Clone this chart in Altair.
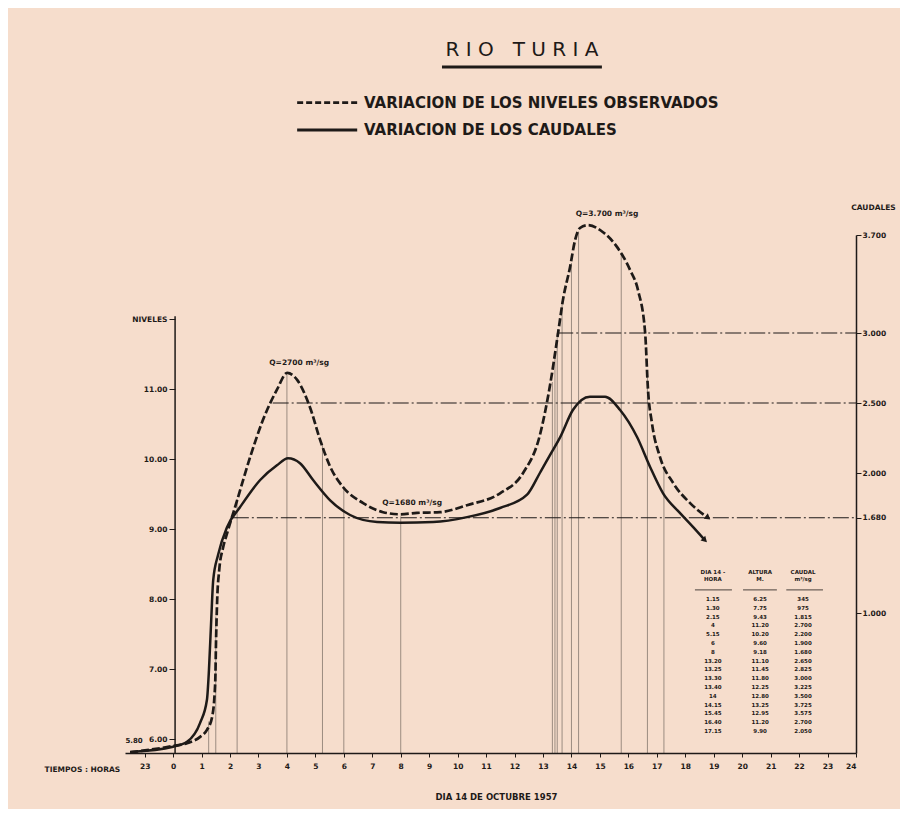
import altair as alt
import pandas as pd

# ---------------- data ----------------
# dashed curve: observed levels (m) against time (hours, day 14)
niv_h = [-1.51, 0.0, 0.49, 0.95, 1.19, 1.37, 1.48, 1.51, 1.55, 1.62, 1.76, 1.90, 2.25, 2.71, 3.16,
         3.65, 4.01, 4.36, 4.81, 5.17, 5.52, 5.97, 6.68, 7.38, 7.98, 8.57, 9.38, 10.33, 11.49, 12.30,
         12.89, 13.25, 13.53, 13.70, 13.95, 14.13, 14.30, 14.58, 15.11, 15.60, 16.06, 16.34, 16.59,
         16.69, 16.83, 17.11, 17.57, 18.17, 18.80]
niv_m = [5.81, 5.90, 5.94, 6.03, 6.13, 6.31, 6.80, 7.41, 7.99, 8.41, 8.74, 8.94, 9.41, 10.03, 10.56,
         10.99, 11.23, 11.13, 10.74, 10.27, 9.89, 9.60, 9.37, 9.24, 9.21, 9.23, 9.24, 9.34, 9.51, 9.80,
         10.34, 11.06, 11.80, 12.27, 12.74, 13.13, 13.30, 13.34, 13.24, 13.03, 12.70, 12.41, 11.80,
         10.99, 10.51, 10.03, 9.66, 9.37, 9.16]

# solid curve: discharges (m3/s) against time
cau_h = [-1.51, 0.0, 0.49, 0.95, 1.19, 1.26, 1.34, 1.41, 1.58, 1.90, 2.35, 3.06, 3.65, 4.04, 4.46,
         4.92, 5.52, 6.22, 7.17, 7.98, 9.14, 10.33, 11.49, 12.44, 12.89, 13.25, 13.60, 14.05, 14.65,
         15.18, 15.71, 16.31, 16.76, 17.22, 17.81, 18.27, 18.69]
cau_q = [7, 45, 80, 215, 380, 590, 950, 1235, 1415, 1615, 1755, 1950, 2055, 2105, 2070,
         1950, 1805, 1700, 1650, 1645, 1650, 1685, 1750, 1845, 2000, 2130, 2255, 2450, 2545,
         2545, 2450, 2255, 2045, 1855, 1715, 1615, 1520]

# table (hour labels, decimal hours, height, discharge)
tab_hora = ["1.15", "1.30", "2.15", "4", "5.15", "6", "8", "13.20", "13.25", "13.30", "13.40",
            "14", "14.15", "15.45", "16.40", "17.15"]
tab_hdec = [1.25, 1.50, 2.25, 4.0, 5.25, 6.0, 8.0, 13.33, 13.42, 13.50, 13.67, 14.0, 14.25, 15.75,
            16.67, 17.25]
tab_alt = [6.25, 7.75, 9.43, 11.20, 10.20, 9.60, 9.18, 11.10, 11.45, 11.80, 12.25, 12.80, 13.25,
           12.95, 11.20, 9.90]
tab_cau = ["345", "975", "1.815", "2.700", "2.200", "1.900", "1.680", "2.650", "2.825", "3.000",
           "3.225", "3.500", "3.725", "3.575", "2.700", "2.050"]

# reference discharge lines (m3/s) and where they start (hours)
ref_q = [1680, 2500, 3000]
ref_h0 = [2.1, 3.5, 13.5]

niv_ticks = [6, 7, 8, 9, 10, 11, 12]
cau_ticks = [1000, 1680, 2000, 2500, 3000, 3700]
hour_ticks = list(range(-1, 25))

series_niv = "VARIACION DE LOS NIVELES OBSERVADOS"
series_cau = "VARIACION DE LOS CAUDALES"

# ---------------- styling ----------------
INK = "#1e1a18"
BG = "#f6ddcc"
FONT = "DejaVu Sans"
NB = "\u00a0"
X = alt.Scale(domain=[-1.69, 24], nice=False, zero=False)
YL = alt.Scale(domain=[5.8, 13.2], nice=False, zero=False)
YR = alt.Scale(domain=[0, 3700], nice=False, zero=True)
one = pd.DataFrame({"a": [0]})


def spaced(s, gap=1, word_gap=3):
    return (NB * word_gap).join((NB * gap).join(w) for w in s.split(" "))


x_axis = alt.Axis(
    orient="bottom", values=hour_ticks,
    labelExpr="datum.value == -1 ? '23' : '' + datum.value",
    grid=False, domain=True, ticks=True, labels=True,
    tickSize=4, tickColor=INK, tickWidth=1, domainColor=INK, domainWidth=1.5,
    labelFont=FONT, labelFontSize=7.5, labelFontWeight="bold", labelColor=INK, labelPadding=5,
    title="DIA 14 DE OCTUBRE 1957", titleFont=FONT, titleFontSize=8.5,
    titleFontWeight="bold", titleColor=INK, titlePadding=23, titleX=371, titleAlign="center",
)
yl_axis = alt.Axis(
    orient="left", offset=-50, values=niv_ticks,
    labelExpr="datum.value == 12 ? 'NIVELES' : format(datum.value, '.2f')",
    domain=False, grid=False, ticks=True, labels=True, tickSize=6, tickColor=INK, tickWidth=1,
    labelFont=FONT, labelFontSize=7.5, labelFontWeight="bold", labelColor=INK, labelPadding=2,
    title=None,
)
yr_axis = alt.Axis(
    orient="right", values=cau_ticks,
    labelExpr="replace(format(datum.value, ','), ',', '.')",
    grid=False, domain=True, ticks=True, labels=True,
    tickSize=5, tickColor=INK, tickWidth=1, domainColor=INK, domainWidth=1.5,
    labelFont=FONT, labelFontSize=7.5, labelFontWeight="bold", labelColor=INK, labelPadding=1,
    title="CAUDALES", titleAngle=0, titleX=17, titleY=-28, titleAlign="center",
    titleBaseline="middle", titleFont=FONT, titleFontSize=7.5, titleFontWeight="bold", titleColor=INK,
)


def XF(field):
    # every layer carries the same x axis definition, so they merge into one
    return alt.X(field, scale=X, axis=x_axis)


def pos_chart(**fields):
    return alt.Chart(one).transform_calculate(**{k: str(v) for k, v in fields.items()})


def label(text, h, m, size=8, weight="bold", align="center", baseline="middle", dx=0, dy=0):
    return pos_chart(ph=h, pm=m).mark_text(
        text=text, font=FONT, fontSize=size, fontWeight=weight, color=INK,
        align=align, baseline=baseline, dx=dx, dy=dy
    ).encode(x=XF("ph:Q"), y=alt.Y("pm:Q", scale=YL, axis=None))


def seg(h1, h2, m, width=1.0, dash=None):
    kw = dict(color=INK, strokeWidth=width)
    if dash:
        kw["strokeDash"] = dash
    return pos_chart(ph=h1, ph2=h2, pm=m).mark_rule(**kw).encode(
        x=XF("ph:Q"), x2="ph2:Q", y=alt.Y("pm:Q", scale=YL, axis=None))


df_niv = pd.DataFrame({"h": niv_h, "m": niv_m})
df_cau = pd.DataFrame({"h": cau_h, "q": cau_q})
df_tab = pd.DataFrame({"hora": tab_hora, "hd": tab_hdec, "alt": tab_alt, "cau": tab_cau,
                       "alt_txt": [f"{v:.2f}" for v in tab_alt], "i": list(range(len(tab_hora)))})
df_ref = pd.DataFrame({"q": ref_q, "h0": ref_h0})

# ---------------- level layers ----------------
niv_line = alt.Chart(df_niv).mark_line(
    color=INK, strokeWidth=2.7, strokeDash=[8, 3], interpolate="monotone"
).encode(x=XF("h:Q"), y=alt.Y("m:Q", scale=YL, axis=yl_axis))

verticals = alt.Chart(df_tab).transform_calculate(base="5.8").mark_rule(
    color=INK, strokeWidth=0.7, opacity=0.6
).encode(x=XF("hd:Q"), y=alt.Y("base:Q", scale=YL, axis=None), y2="alt:Q")

left_axis_line = pos_chart(ph=0.07, pm=5.8, pm2=12.04).mark_rule(color=INK, strokeWidth=1.5).encode(
    x=XF("ph:Q"), y=alt.Y("pm:Q", scale=YL, axis=None), y2="pm2:Q")

niv_arrow = alt.Chart(df_niv.tail(1)).mark_point(
    shape="triangle-right", filled=True, size=45, angle=38, color=INK, opacity=1
).encode(x=XF("h:Q"), y=alt.Y("m:Q", scale=YL, axis=None))

tab_cols = []
for field, hpos in [("hora", 18.97), ("alt_txt", 20.63), ("cau", 22.14)]:
    tab_cols.append(alt.Chart(df_tab).transform_calculate(
        ty="8.0 - datum.i * 0.1257", tx=str(hpos)
    ).mark_text(
        font=FONT, fontSize=5.5, fontWeight="bold", color=INK, align="center", baseline="middle"
    ).encode(x=XF("tx:Q"), y=alt.Y("ty:Q", scale=YL, axis=None), text=f"{field}:N"))

annotations = [
    label(spaced("RIO TURIA"), 12.26, 15.84, size=20, weight="normal"),
    seg(9.45, 15.07, 15.60, width=2.8),
    seg(4.36, 6.47, 15.09, width=2.8, dash=[6, 3]),
    label(series_niv, 6.71, 15.09, size=15, align="left"),
    seg(4.36, 6.47, 14.70, width=2.8),
    label(series_cau, 6.71, 14.70, size=15, align="left"),
    label("Q=2700 m³/sg", 4.43, 11.37, size=7.5),
    label("Q=1680 m³/sg", 8.40, 9.37, size=7.5),
    label("Q=3.700 m³/sg", 15.25, 13.50, size=7.5),
    label("5.80", -1.37, 5.97, size=7),
    label("TIEMPOS : HORAS", -1.86, 5.8, size=7.5, align="right", dy=17),
    label("DIA 14 -", 18.97, 8.386, size=5.5),
    label("HORA", 18.97, 8.286, size=5.5),
    label("ALTURA", 20.63, 8.386, size=5.5),
    label("M.", 20.63, 8.286, size=5.5),
    label("CAUDAL", 22.14, 8.386, size=5.5),
    label("m³/sg", 22.14, 8.286, size=5.5),
    seg(18.34, 19.64, 8.13, width=0.8),
    seg(20.03, 21.22, 8.13, width=0.8),
    seg(21.55, 22.84, 8.13, width=0.8),
]

# ---------------- discharge layers ----------------
cau_line = alt.Chart(df_cau).mark_line(
    color=INK, strokeWidth=2.5, interpolate="monotone"
).encode(x=XF("h:Q"), y=alt.Y("q:Q", scale=YR, axis=yr_axis))

ref_lines = alt.Chart(df_ref).transform_calculate(hend="24").mark_rule(
    color=INK, strokeWidth=1.1, strokeDash=[16, 3, 2, 3]
).encode(x=XF("h0:Q"), x2="hend:Q", y=alt.Y("q:Q", scale=YR, axis=None))

cau_arrow = alt.Chart(df_cau.tail(1)).mark_point(
    shape="triangle-right", filled=True, size=45, angle=45, color=INK, opacity=1
).encode(x=XF("h:Q"), y=alt.Y("q:Q", scale=YR, axis=None))

layers = [niv_line, cau_line, verticals, left_axis_line, niv_arrow, ref_lines, cau_arrow,
          *tab_cols, *annotations]

chart = alt.layer(*layers).resolve_scale(y="independent").properties(
    width=731, height=518,
    autosize=alt.AutoSizeParams(type="none"),
    padding={"left": 117, "top": 227, "right": 44, "bottom": 56},
    background=BG,
).configure_view(stroke=None)

chart.save("out.html", embed_options={"renderer": "svg", "actions": False})
